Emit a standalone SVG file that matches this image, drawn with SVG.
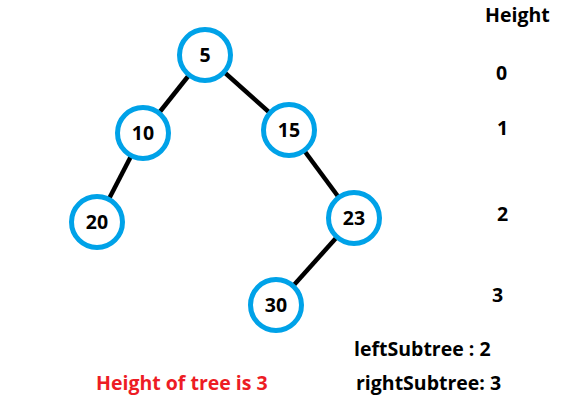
<svg xmlns="http://www.w3.org/2000/svg" width="575" height="411" viewBox="0 0 575 411">
<style>
.n{fill:#fff;stroke:#00A2E8;stroke-width:5}
.t{font-family:"Open Sans","Liberation Sans",sans-serif;font-weight:bold;font-size:19.5px;fill:#000}
.c{stroke:#000;stroke-width:4.5;fill:none}
</style>
<rect width="575" height="411" fill="#fff"/>
<g id="connectors">
<line class="c" x1="205" y1="55" x2="143" y2="133"/>
<line class="c" x1="205" y1="55" x2="289" y2="130"/>
<line class="c" x1="143" y1="133" x2="97" y2="222"/>
<line class="c" x1="289" y1="130" x2="354" y2="218"/>
<line class="c" x1="354" y1="218" x2="276" y2="305"/>
</g>
<g id="n5"><circle class="n" cx="205" cy="55" r="25.5"/><text class="t" x="205" y="62" text-anchor="middle">5</text></g>
<g id="n10"><circle class="n" cx="143" cy="133" r="25.5"/><text class="t" x="143" y="140" text-anchor="middle">10</text></g>
<g id="n15"><circle class="n" cx="289" cy="130" r="25.5"/><text class="t" x="289" y="137" text-anchor="middle">15</text></g>
<g id="n20"><circle class="n" cx="97" cy="222" r="25.5"/><text class="t" x="97" y="229" text-anchor="middle">20</text></g>
<g id="n23"><circle class="n" cx="354" cy="218" r="25.5"/><text class="t" x="354" y="225" text-anchor="middle">23</text></g>
<g id="n30"><circle class="n" cx="276" cy="305" r="25.5"/><text class="t" x="276" y="312" text-anchor="middle">30</text></g>
<g id="labels">
<text class="t" x="485" y="22">Height</text>
<text class="t" x="496" y="80">0</text>
<text class="t" x="497" y="135">1</text>
<text class="t" x="497" y="221">2</text>
<text class="t" x="492" y="302">3</text>
<text class="t" x="354" y="356">leftSubtree : 2</text>
<text class="t" x="356" y="390">rightSubtree: 3</text>
<text class="t" x="96" y="390" style="fill:#ED1C24">Height of tree is 3</text>
</g>
</svg>
